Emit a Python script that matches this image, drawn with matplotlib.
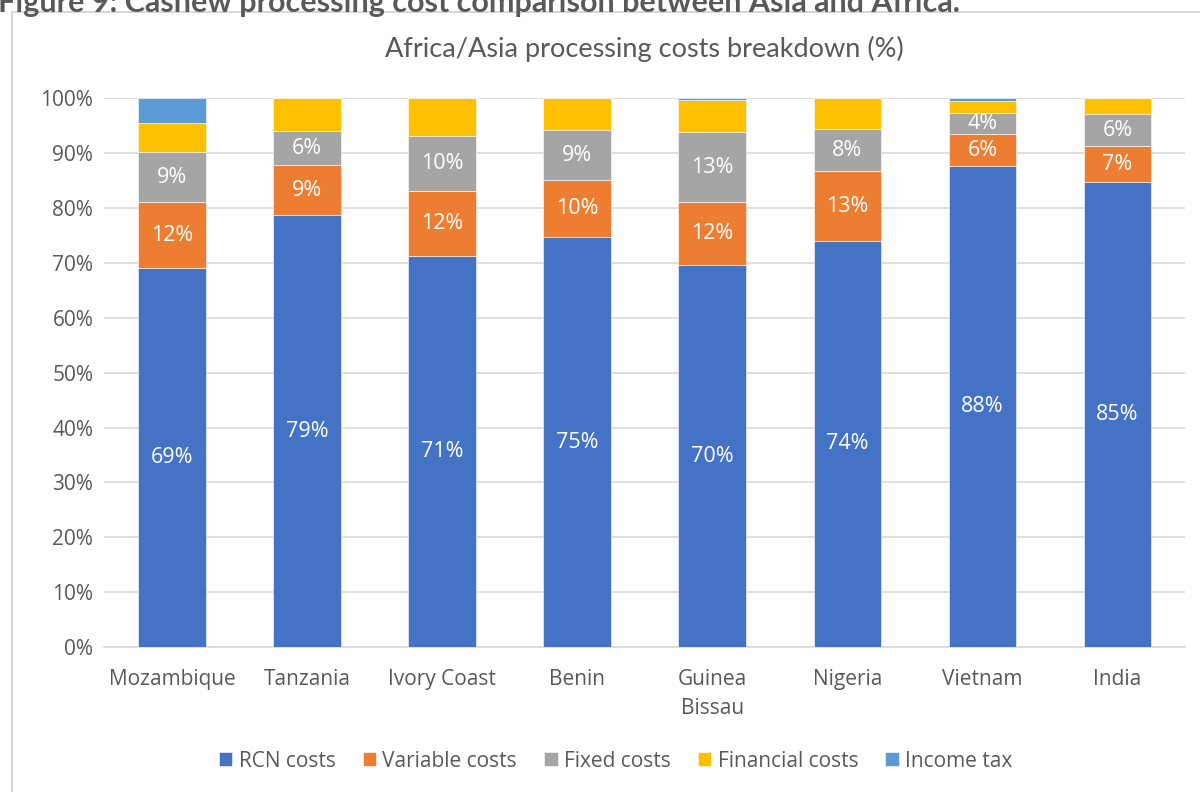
import numpy as np
import matplotlib.pyplot as plt
from matplotlib.patches import Rectangle

countries = ['Mozambique', 'Tanzania', 'Ivory Coast', 'Benin', 'Guinea\nBissau',
             'Nigeria', 'Vietnam', 'India']
rcn = [69.0, 78.7, 71.2, 74.7, 69.6, 74.0, 87.6, 84.7]
variable = [12.0, 9.1, 11.9, 10.4, 11.5, 12.7, 5.9, 6.6]
fixed = [9.2, 6.2, 10.0, 9.1, 12.7, 7.7, 3.8, 5.8]
financial = [5.2, 6.0, 6.9, 5.8, 5.8, 5.6, 2.2, 2.9]
income_tax = [4.6, 0.0, 0.0, 0.0, 0.4, 0.0, 0.5, 0.0]

series = [('RCN costs', rcn, '#4472C4', True),
          ('Variable costs', variable, '#ED7D31', True),
          ('Fixed costs', fixed, '#A5A5A5', True),
          ('Financial costs', financial, '#FFC000', False),
          ('Income tax', income_tax, '#5B9BD5', False)]

plt.rcParams['font.family'] = ['Open Sans', 'DejaVu Sans']
txt = '#595959'

fig = plt.figure(figsize=(12, 7.92), dpi=100)
ax = fig.add_axes([0.087, 0.183, 0.9005, 0.693])

# chart frame and the caption above it (clipped at the top, as in the source)
fig.patches.append(Rectangle((0.01, -0.1), 1.2, 1.085, transform=fig.transFigure,
                             fill=False, edgecolor='#d0d0d0', linewidth=1.2))
fig.text(-0.002, 0.996, 'Figure 9: Cashew processing cost comparison between Asia and Africa.',
         fontsize=22, fontweight='bold', color=txt, va='center', ha='left', family='Lato')

x = np.arange(len(countries))
bottom = np.zeros(len(countries))
for name, vals, col, show in series:
    vals = np.array(vals)
    ax.bar(x, vals, 0.5, bottom=bottom, color=col, label=name,
           edgecolor='white', linewidth=0.4, zorder=3)
    if show:
        for xi, b, v in zip(x, bottom, vals):
            ax.text(xi, b + v / 2, '%d%%' % round(v), ha='center', va='center',
                    color='white', fontsize=15.5, zorder=4)
    bottom += vals

ax.set_xlim(-0.5, len(countries) - 0.5)
ax.set_ylim(0, 100)
ax.set_yticks(np.arange(0, 101, 10))
ax.set_yticklabels(['%d%%' % v for v in range(0, 101, 10)])
ax.set_xticks(x)
ax.set_xticklabels(countries, linespacing=1.5)
ax.tick_params(length=0, labelsize=15, colors=txt)
ax.tick_params(axis='x', pad=16)
ax.tick_params(axis='y', pad=8)
ax.grid(axis='y', color='#d9d9d9', linewidth=1.2, zorder=0)
for s in ['top', 'right', 'left']:
    ax.spines[s].set_visible(False)
ax.spines['bottom'].set_color('#d9d9d9')
ax.spines['bottom'].set_linewidth(1.2)

ax.set_title('Africa/Asia processing costs breakdown (%)', fontsize=19.5, color=txt,
             pad=30, family='Lato')

fig.legend(loc='center', bbox_to_anchor=(0.513, 0.039), ncol=5, frameon=False,
           fontsize=15, handlelength=0.65, handleheight=0.65, handletextpad=0.3,
           columnspacing=1.3, labelcolor=txt)

fig.savefig('out.png', dpi=100)
